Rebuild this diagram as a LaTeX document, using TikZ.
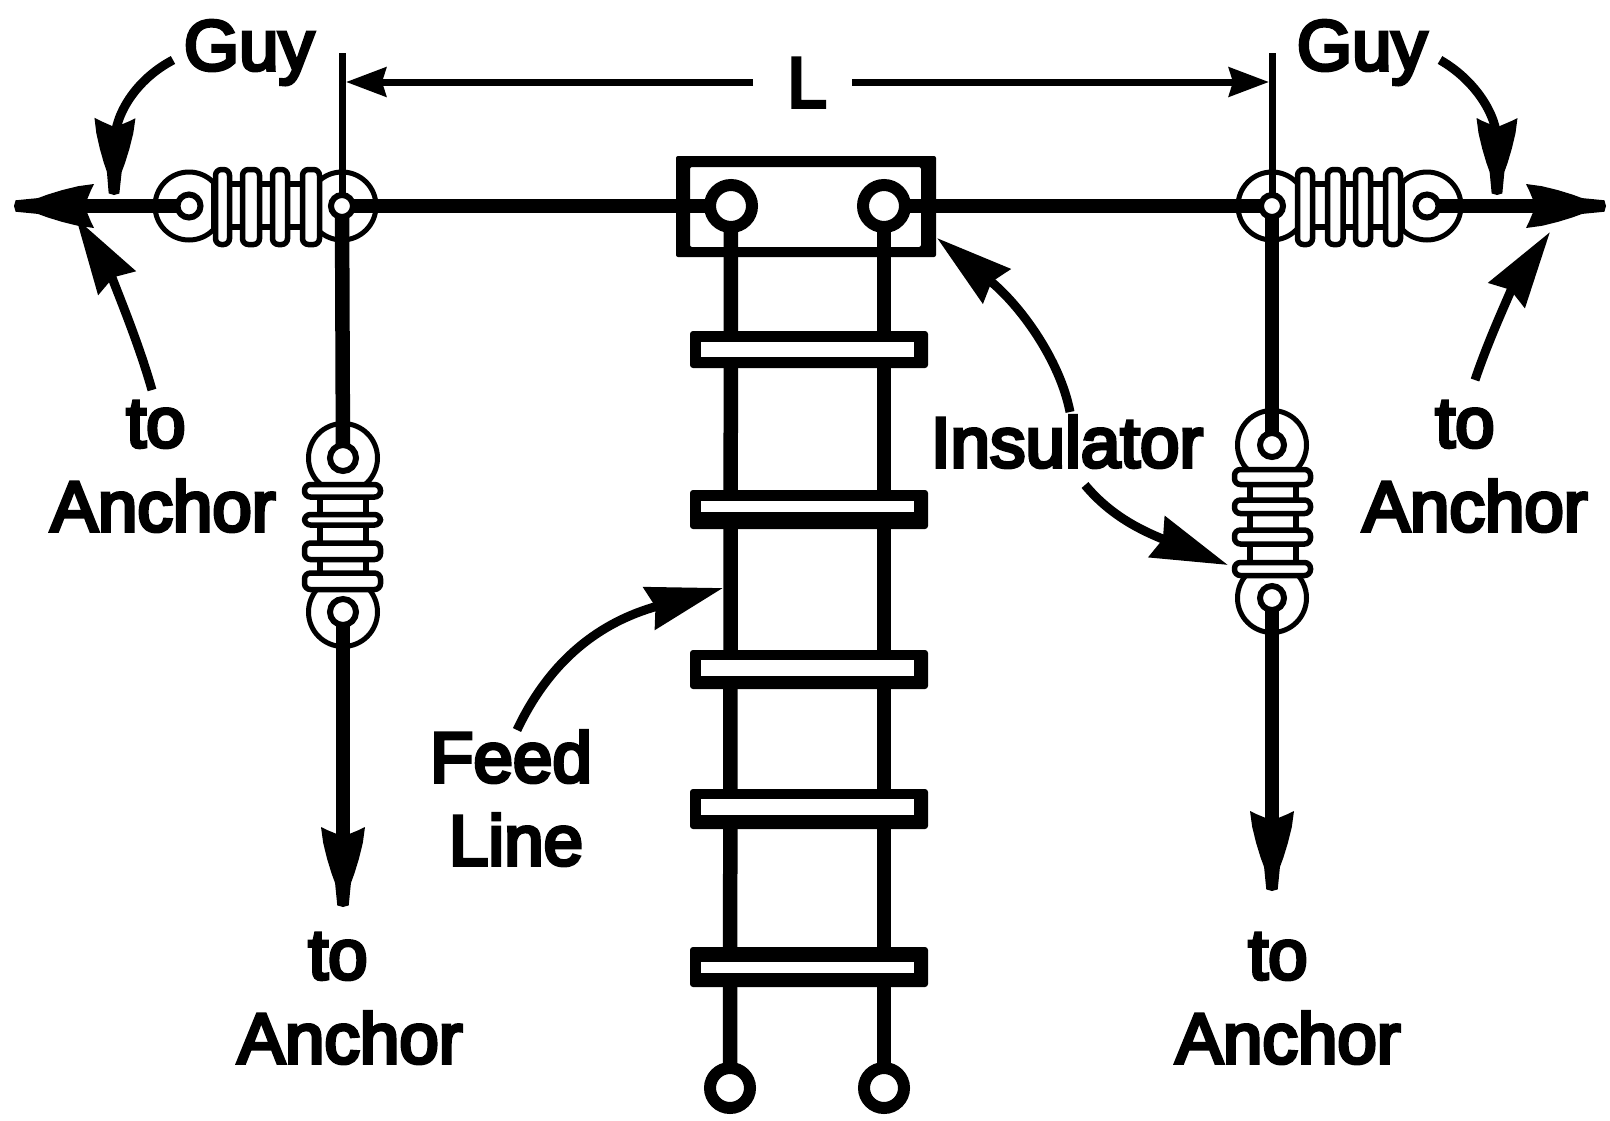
\documentclass[tikz,border=0pt]{standalone}
\usepackage{fontspec}
\newfontfamily\lblfont[FakeBold=5]{Liberation Sans}
\usetikzlibrary{arrows.meta}
\pgfdeclarearrow{
  name=Barb,
  setup code={
    \pgfarrowssettipend{0pt}
    \pgfarrowssetlineend{-0.7\pgfarrowlength}
    \pgfarrowssavethe\pgfarrowlength
    \pgfarrowssavethe\pgfarrowwidth
  },
  drawing code={
    \pgfpathmoveto{\pgfqpoint{0pt}{0pt}}
    \foreach \px/\py in {-0.02/0.13,-0.30/0.18,-0.42/0.26,-0.60/0.36,-0.80/0.45,-1.00/0.50,-0.96/0.35,-0.88/0,-0.96/-0.35,-1.00/-0.50,-0.80/-0.45,-0.60/-0.36,-0.42/-0.26,-0.30/-0.18,-0.02/-0.13}{
      \pgfpathlineto{\pgfqpoint{\px\pgfarrowlength}{\py\pgfarrowwidth}}
    }
    \pgfpathclose
    \pgfusepathqfill
  },
  parameters={\the\pgfarrowlength,\the\pgfarrowwidth},
  defaults={length=80pt,width=44pt}
}
\tikzset{
  lbl/.style={inner sep=0pt,anchor=base,font=\lblfont\fontsize{71}{85}\selectfont},
  wire/.style={line width=14.5pt,line cap=butt},
  wirehead/.style={line width=14pt,-{Barb[length=80pt,width=44pt]}},
  guyptr/.style={line width=9pt,-{Barb[length=77pt,width=41pt]}},
  ptr/.style={line width=9pt,-{Stealth[length=76pt,width=43pt,inset=6pt]}},
  dimline/.style={line width=7pt},
  dimhead/.style={line width=7pt,-{Stealth[length=40pt,width=29pt,inset=4pt]}},
  eyeshape/.style={draw,fill=white,line width=5pt},
  ringshape/.style={draw,fill=white,line width=6pt},
  feedring/.style={draw,fill=white,line width=12pt},
  ribshape/.style={draw,fill=white,line width=5.5pt,rounded corners=6pt},
  bodyshape/.style={draw,fill=white,line width=6pt},
}
\begin{document}
\begin{tikzpicture}[x=1pt,y=-1pt]
\path[use as bounding box,fill=white] (0,0) rectangle (1610,1120);
% named points
\coordinate (tipL) at (14,206); \coordinate (tipR) at (1606,206);
\coordinate (insLa) at (189,206); \coordinate (insLb) at (342,206);
\coordinate (insRa) at (1272,206); \coordinate (insRb) at (1427,206);
\coordinate (feedA) at (731,206); \coordinate (feedB) at (884,206);
\coordinate (botA) at (730,1088); \coordinate (botB) at (884,1088);
\coordinate (vLa) at (343,458); \coordinate (vLb) at (343,612); \coordinate (vLtip) at (343,907);
\coordinate (vRa) at (1272,445); \coordinate (vRb) at (1272,598); \coordinate (vRtip) at (1272,891);
\coordinate (dimLtop) at (342,53); \coordinate (dimRtop) at (1272,53);
\coordinate (dimLin) at (342,198); \coordinate (dimRin) at (1272,198);
\coordinate (dimLa) at (346,82); \coordinate (dimRa) at (1269,82);
\coordinate (gapL) at (753,82); \coordinate (gapR) at (852,82);
% horizontal insulators
\draw[eyeshape] (insLa) circle[radius=34pt];
\draw[eyeshape] (insLb) circle[radius=34pt];
\draw[bodyshape] (214,184) rectangle (318,227);
\foreach \a/\b in {215.5/229.5,242.5/259.5,272.5/287.5,302.5/319.5}
  \draw[ribshape] (\a,169.5) rectangle (\b,244.5);
\draw[eyeshape] (insRa) circle[radius=34pt];
\draw[eyeshape] (insRb) circle[radius=34pt];
\draw[bodyshape] (1298,184) rectangle (1402,227);
\foreach \a/\b in {1297.5/1312.5,1327.5/1343,1355.5/1370.5,1385.5/1400.5}
  \draw[ribshape] (\a,169.5) rectangle (\b,244.5);
% vertical insulators
\draw[eyeshape] (vLa) circle[radius=34.5pt];
\draw[eyeshape] (vLb) circle[radius=34.5pt];
\draw[bodyshape] (320,490) rectangle (366,585);
\foreach \a/\b in {484.5/497,514.5/525,543/559.5,573/589.5}
  \draw[ribshape] (304.5,\a) rectangle (380.5,\b);
\draw[eyeshape] (vRa) circle[radius=34.5pt];
\draw[eyeshape] (vRb) circle[radius=34.5pt];
\draw[bodyshape] (1250,475) rectangle (1296,570);
\foreach \a/\b in {469.5/484.5,500/513.5,530/544,562.5/575.5}
  \draw[ribshape] (1234.5,\a) rectangle (1310.5,\b);
% antenna wires
\draw[wirehead] (insLa) -- (tipL);
\draw[wire] (insLb) -- (feedA);
\draw[wire] (feedB) -- (insRa);
\draw[wirehead] (insRb) -- (tipR);
\draw[wire] (insLb) -- (vLa);
\draw[wirehead] (vLb) -- (vLtip);
\draw[wire] (insRa) -- (vRa);
\draw[wirehead] (vRb) -- (vRtip);
% feed box
\fill[even odd rule,rounded corners=2pt] (676,156) rectangle (936,257) (690,167) rectangle (921,247);
\draw[wire] (676,206) -- (feedA);
\draw[wire] (feedB) -- (936,206);
% ladder line
\draw[wire] (feedA) -- (botA);
\draw[wire] (feedB) -- (botB);
\foreach \o/\p/\i/\j in {331/368/342/357,490/529/501/512,650/689/660/676,789/829/799/815,947/987/962/973}{
  \fill[rounded corners=3pt] (690,\o) rectangle (928,\p);
  \fill[white] (701,\i) rectangle (914,\j);
}
\draw[feedring] (feedA) circle[radius=21pt];
\draw[feedring] (feedB) circle[radius=21pt];
\draw[feedring] (botA) circle[radius=20pt];
\draw[feedring] (botB) circle[radius=20pt];
% small rings
\draw[ringshape] (insLa) circle[radius=11.5pt];
\draw[ringshape] (insLb) circle[radius=11pt];
\draw[ringshape] (insRa) circle[radius=11pt];
\draw[ringshape] (insRb) circle[radius=11.5pt];
\draw[ringshape] (vLa) circle[radius=13pt];
\draw[ringshape] (vLb) circle[radius=13pt];
\draw[ringshape] (vRa) circle[radius=12pt];
\draw[ringshape] (vRb) circle[radius=12pt];
% dimension
\draw[dimline] (dimLtop) -- (dimLin);
\draw[dimline] (dimRtop) -- (dimRin);
\draw[dimhead] (gapL) -- (dimLa);
\draw[dimhead] (gapR) -- (dimRa);
% labels
\node[lbl] (guyL) at (249,70) {Guy};
\node[lbl] (guyR) at (1362,70) {Guy};
\node[lbl] (lenL) at (807,107) {L};
\node[lbl] (toA) at (156,447) {to};
\node[lbl] (ancA) at (163,531) {Anchor};
\node[lbl] (toB) at (1465,447) {to};
\node[lbl] (ancB) at (1475,531) {Anchor};
\node[lbl] (toC) at (338,979) {to};
\node[lbl] (ancC) at (350,1063) {Anchor};
\node[lbl] (toD) at (1278,979) {to};
\node[lbl] (ancD) at (1288,1063) {Anchor};
\node[lbl] (insu) at (1067,467) {Insulator};
\node[lbl] (feed) at (511,782) {Feed};
\node[lbl] (line) at (516,865) {Line};
% pointers
\coordinate (p1a) at (173,60);  \coordinate (p1b) at (114,195);
\coordinate (p2a) at (152,390); \coordinate (p2b) at (76,218);
\coordinate (p3a) at (1440,60); \coordinate (p3b) at (1497,195);
\coordinate (p4a) at (1475,380);\coordinate (p4b) at (1550,232);
\coordinate (p5a) at (1070,412);\coordinate (p5b) at (937,238);
\coordinate (p6a) at (1085,485);\coordinate (p6b) at (1228,565);
\coordinate (p7a) at (517,730); \coordinate (p7b) at (723,588);
\draw[guyptr] (p1a) .. controls (135,80) and (115,115) .. (p1b);
\draw[ptr] (p2a) .. controls (135,330) and (105,264) .. (p2b);
\draw[guyptr] (p3a) .. controls (1475,80) and (1497,115) .. (p3b);
\draw[ptr] (p4a) .. controls (1490,335) and (1515,283) .. (p4b);
\draw[ptr] (p5a) .. controls (1060,360) and (1020,305) .. (p5b);
\draw[ptr] (p6a) .. controls (1110,515) and (1140,530) .. (p6b);
\draw[ptr] (p7a) .. controls (550,660) and (600,622) .. (p7b);
\end{tikzpicture}
\end{document}
